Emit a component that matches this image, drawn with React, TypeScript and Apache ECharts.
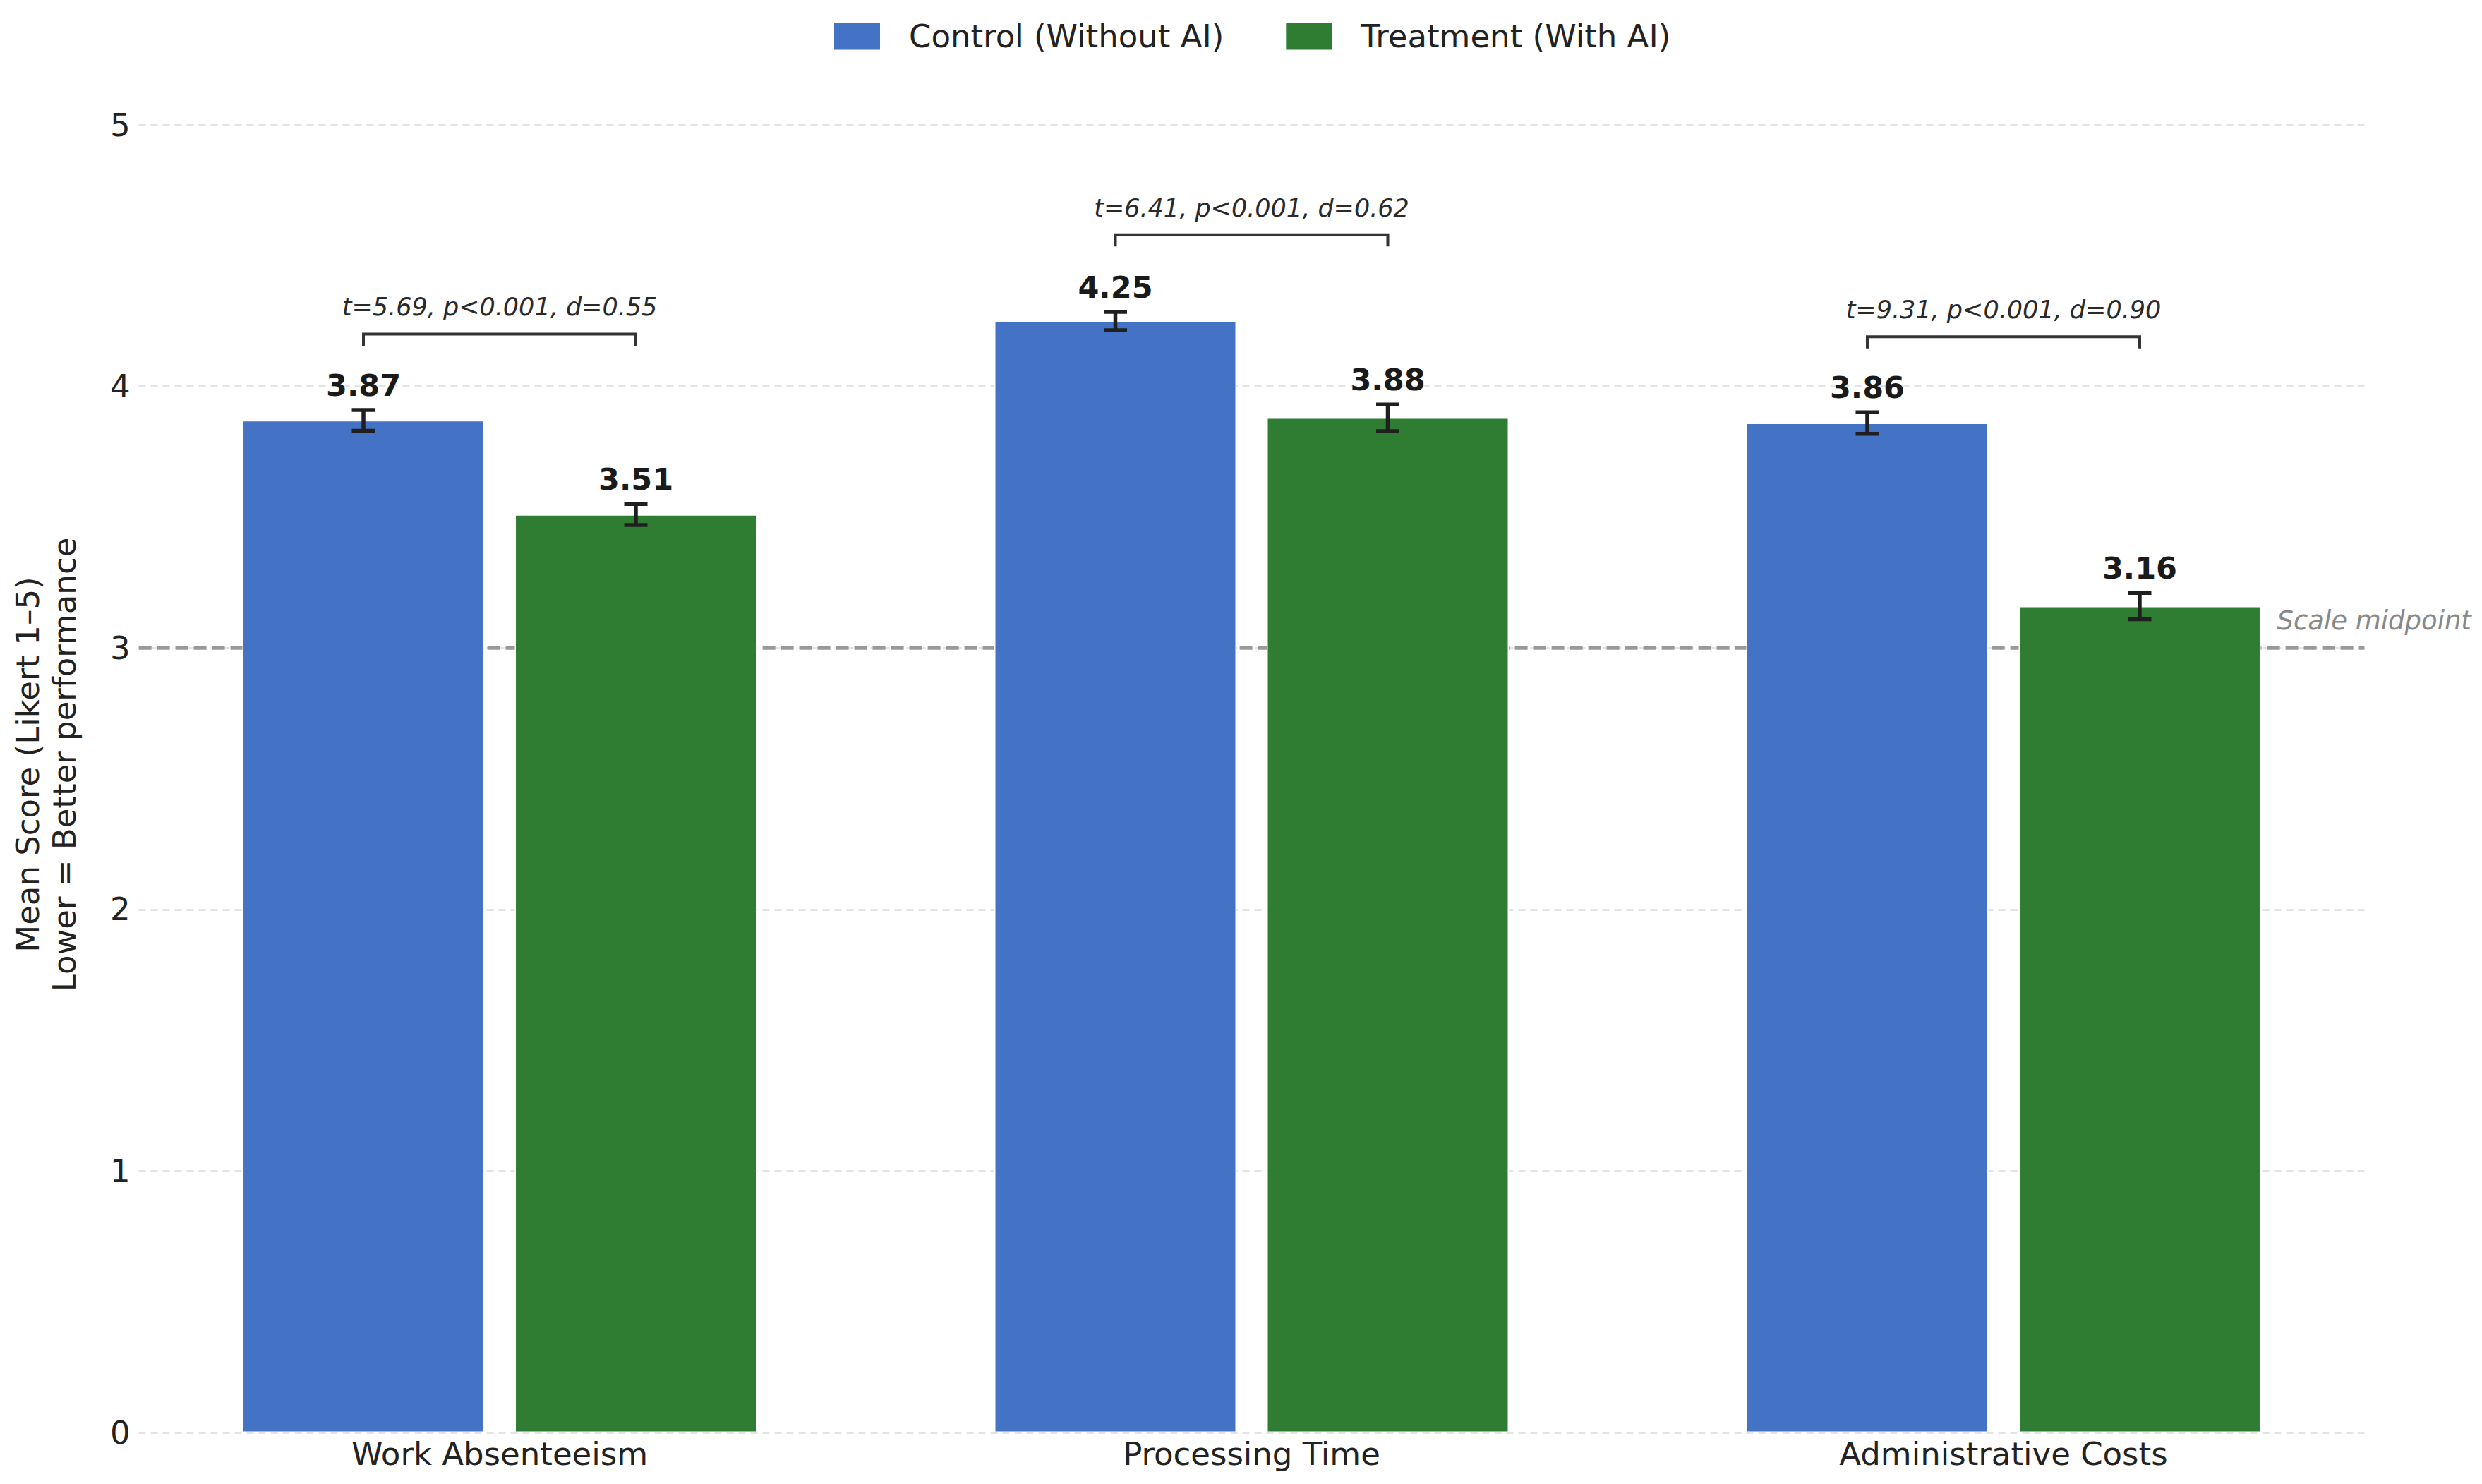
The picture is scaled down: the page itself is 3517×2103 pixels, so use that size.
import React, { useEffect, useRef } from 'react';
import * as echarts from 'echarts';

// ---- Data ----
const CATEGORIES = ['Work Absenteeism', 'Processing Time', 'Administrative Costs'];
const SERIES_NAMES = ['Control (Without AI)', 'Treatment (With AI)'];
const CONTROL_MEAN = [3.87, 4.25, 3.86];
const TREATMENT_MEAN = [3.51, 3.88, 3.16];
const CONTROL_SE = [0.04, 0.035, 0.041];
const TREATMENT_SE = [0.04, 0.051, 0.05];
const STAT_LABELS = [
  't=5.69, p<0.001, d=0.55',
  't=6.41, p<0.001, d=0.62',
  't=9.31, p<0.001, d=0.90',
];
const BRACKET_Y = [4.2, 4.58, 4.19];
const MIDPOINT = 3;
const MIDPOINT_LABEL = 'Scale midpoint';
const Y_MIN = 0;
const Y_MAX = 5;
const Y_INTERVAL = 1;
const Y_TITLE = 'Mean Score (Likert 1–5)\nLower = Better performance';

// ---- Styles ----
const FONT = '"DejaVu Sans", "Noto Sans", sans-serif';
const BLUE = '#4472C4';
const GREEN = '#2E7D32';
const INK = '#222222';
const BAR_WIDTH = 343;
const BAR_GAP = 43;
const X_MIN = -0.48;
const X_MAX = 2.48;

export default function App() {
  const ref = useRef<HTMLDivElement>(null);

  useEffect(() => {
    if (!ref.current) return;
    const chart = echarts.init(ref.current, undefined, { renderer: 'svg' });
    const off = (BAR_WIDTH + BAR_GAP) / 2;

    const errData = CATEGORIES.map((_, i) => [i, CONTROL_MEAN[i], CONTROL_SE[i], TREATMENT_MEAN[i], TREATMENT_SE[i]]);
    const bracketData = CATEGORIES.map((_, i) => [i, BRACKET_Y[i]]);

    const option: any = {
      animation: false,
      backgroundColor: '#ffffff',
      textStyle: { fontFamily: FONT },
      legend: {
        left: 1180,
        top: 29,
        padding: 0,
        itemWidth: 67,
        itemHeight: 40,
        itemGap: 86,
        icon: 'rect',
        data: SERIES_NAMES,
        textStyle: { fontSize: 45, color: INK, fontFamily: FONT, padding: [0, 0, 0, 35] },
        selectedMode: false,
      },
      grid: { left: 196.6, right: 166.6, top: 177, bottom: 73, containLabel: false },
      xAxis: {
        type: 'value',
        min: X_MIN,
        max: X_MAX,
        splitNumber: 3,
        axisLine: { show: false },
        axisTick: { show: false },
        splitLine: { show: false },
        axisLabel: {
          fontSize: 45,
          color: INK,
          fontFamily: FONT,
          margin: 8,
          formatter: (v: number) => (Number.isInteger(v) && CATEGORIES[v] !== undefined ? CATEGORIES[v] : ''),
        },
      },
      yAxis: {
        type: 'value',
        min: Y_MIN,
        max: Y_MAX,
        interval: Y_INTERVAL,
        name: Y_TITLE,
        nameLocation: 'middle',
        nameRotate: 90,
        nameGap: 79,
        nameTextStyle: { fontSize: 45, lineHeight: 52, color: INK, fontFamily: FONT, padding: [0, 0, 0, 40] },
        axisLine: { show: false },
        axisTick: { show: false },
        axisLabel: { fontSize: 45, color: INK, fontFamily: FONT, margin: 12 },
        splitLine: { show: true, lineStyle: { color: '#e3e3e3', width: 3, type: [10, 7] } },
      },
      series: [
        {
          type: 'custom',
          name: 'midpoint',
          z: 1,
          silent: true,
          data: [[MIDPOINT]],
          renderItem: (params: any, api: any) => {
            const cs = params.coordSys;
            const y = api.coord([0, api.value(0)])[1];
            return {
              type: 'group',
              children: [
                {
                  type: 'line',
                  shape: { x1: cs.x, y1: y, x2: cs.x + cs.width, y2: y },
                  style: { stroke: '#999999', lineWidth: 5, lineDash: [18, 8] },
                },
                {
                  type: 'text',
                  x: cs.x + cs.width - 124,
                  y: y - 39,
                  style: {
                    text: MIDPOINT_LABEL,
                    fill: '#888888',
                    fontSize: 37,
                    fontStyle: 'italic',
                    fontFamily: FONT,
                    align: 'left',
                    verticalAlign: 'middle',
                  },
                },
              ],
            };
          },
        },
        {
          type: 'bar',
          name: SERIES_NAMES[0],
          z: 2,
          barWidth: BAR_WIDTH,
          barGap: `${(BAR_GAP / BAR_WIDTH) * 100}%`,
          itemStyle: { color: BLUE, borderColor: '#ffffff', borderWidth: 1.5 },
          emphasis: { disabled: true },
          data: CONTROL_MEAN.map((v, i) => [i, v]),
        },
        {
          type: 'bar',
          name: SERIES_NAMES[1],
          z: 2,
          barWidth: BAR_WIDTH,
          barGap: `${(BAR_GAP / BAR_WIDTH) * 100}%`,
          itemStyle: { color: GREEN, borderColor: '#ffffff', borderWidth: 1.5 },
          emphasis: { disabled: true },
          data: TREATMENT_MEAN.map((v, i) => [i, v]),
        },
        {
          type: 'custom',
          name: 'errors',
          z: 5,
          silent: true,
          data: errData,
          renderItem: (params: any, api: any) => {
            const i = api.value(0);
            const groups: [number, number, number][] = [
              [api.value(1), api.value(2), -off],
              [api.value(3), api.value(4), off],
            ];
            const children: any[] = [];
            groups.forEach(([m, e, dx]) => {
              const top = api.coord([i, m + e]);
              const bot = api.coord([i, m - e]);
              const x = top[0] + dx;
              const st = { stroke: '#1f1f1f', lineWidth: 5.5 };
              children.push({ type: 'line', shape: { x1: x, y1: top[1], x2: x, y2: bot[1] }, style: st });
              children.push({ type: 'line', shape: { x1: x - 16.5, y1: top[1], x2: x + 16.5, y2: top[1] }, style: st });
              children.push({ type: 'line', shape: { x1: x - 16.5, y1: bot[1], x2: x + 16.5, y2: bot[1] }, style: st });
              children.push({
                type: 'text',
                x,
                y: top[1] - 35,
                style: {
                  text: m.toFixed(2),
                  fill: '#1a1a1a',
                  fontSize: 43,
                  fontWeight: 'bold',
                  fontFamily: FONT,
                  align: 'center',
                  verticalAlign: 'middle',
                },
              });
            });
            return { type: 'group', children };
          },
        },
        {
          type: 'custom',
          name: 'brackets',
          z: 5,
          silent: true,
          data: bracketData,
          renderItem: (params: any, api: any) => {
            const i = api.value(0);
            const p = api.coord([i, api.value(1)]);
            const tickLen = api.size([0, 0.045])[1];
            const x1 = p[0] - off;
            const x2 = p[0] + off;
            const y = p[1];
            return {
              type: 'group',
              children: [
                {
                  type: 'polyline',
                  shape: { points: [[x1, y + tickLen], [x1, y], [x2, y], [x2, y + tickLen]] },
                  style: { stroke: '#333333', lineWidth: 4, fill: 'none' },
                },
                {
                  type: 'text',
                  x: p[0],
                  y: y - 38,
                  style: {
                    text: STAT_LABELS[params.dataIndex],
                    fill: '#2a2a2a',
                    fontSize: 35,
                    fontStyle: 'italic',
                    fontFamily: FONT,
                    align: 'center',
                    verticalAlign: 'middle',
                  },
                },
              ],
            };
          },
        },
      ],
    };

    chart.setOption(option);
    return () => chart.dispose();
  }, []);

  return (
    <div
      ref={ref}
      style={{ position: 'fixed', left: 0, top: 0, width: '3517px', height: '2103px', background: '#fff' }}
    />
  );
}
